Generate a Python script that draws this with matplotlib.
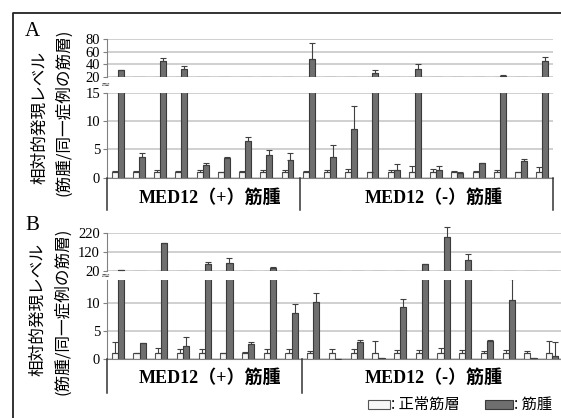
import numpy as np
import matplotlib.pyplot as plt
from matplotlib.lines import Line2D
from matplotlib.patches import Rectangle

# panel A
a_normal = [1.0, 1.0, 1.0, 1.0, 1.0, 1.0, 1.0, 1.0, 1.0, 1.0, 1.0, 1.0, 1.0, 1.0, 1.0, 1.0, 0.9, 1.0, 1.0, 1.0, 1.0]
a_normal_err = [0.1, 0.2, 0.3, 0.1, 0.3, 0.05, 0.2, 0.3, 0.3, 0.1, 0.4, 0.5, 0.05, 0.3, 1.0, 0.5, 0.2, 0.2, 0.4, 0.05, 0.8]
a_myoma = [30, 3.7, 45, 32, 2.2, 3.4, 6.5, 4.0, 3.1, 48, 3.7, 8.6, 26, 1.3, 32, 1.3, 0.8, 2.6, 21, 3.0, 45]
a_myoma_err = [1, 0.6, 5, 5, 0.3, 0.3, 0.7, 0.8, 1.3, 26, 2.0, 4.1, 4, 1.0, 9, 0.8, 0.1, 0.05, 1.5, 0.3, 6]

# panel B
b_normal = [1.0] * 21
b_normal_err = [2.1, 0.05, 1.0, 0.8, 0.7, 0.05, 0.2, 0.8, 0.7, 0.5, 0.7, 0.7, 2.2, 0.6, 0.6, 0.9, 0.6, 0.4, 0.6, 0.5, 2.2]
b_myoma = [23, 2.8, 166, 2.4, 55, 60, 2.7, 34, 8.2, 10.2, 0, 3.1, 0.2, 9.2, 58, 200, 78, 3.3, 10.5, 0.2, 0.6]
b_myoma_err = [1, 0.1, 2, 1.6, 10, 26, 0.4, 7, 1.6, 1.6, 0, 0.3, 0.05, 1.5, 1, 50, 30, 0.1, 3.7, 0.05, 2.5]

group_labels = ['MED12（+）筋腫', 'MED12（-）筋腫']
ylabel1 = '相対的発現レベル'
ylabel2 = '(筋腫/同一症例の筋層)'
legend_labels = [': 正常筋層', ': 筋腫']

W, H = 561, 418
serif = ['Liberation Serif', 'Noto Sans CJK JP']
cjk = ['Noto Sans CJK JP', 'DejaVu Sans']
white_c, white_e = '#f7f7f7', '#555555'
gray_c, gray_e = '#6f6f6f', '#3a3a3a'
grid_c = '#c4c4c4'
spine_c = '#808080'


def box(x0, y0, x1, y1):
    # pixel box -> figure fractions
    return [x0 / W, 1 - y1 / H, (x1 - x0) / W, (y1 - y0) / H]


def style(ax, lim, ticks, bottom):
    ax.set_ylim(*lim)
    ax.set_xlim(-0.5, 20.5)
    ax.set_yticks(ticks)
    ax.set_yticklabels([str(t) for t in ticks], fontfamily='Liberation Serif', fontsize=10.5)
    ax.set_xticks([])
    ax.tick_params(axis='y', direction='out', length=3, width=0.8, color=spine_c, pad=2)
    ax.yaxis.grid(True, color=grid_c, lw=1.1)
    ax.set_axisbelow(True)
    for s in ['top', 'right']:
        ax.spines[s].set_visible(False)
    ax.spines['left'].set_color(spine_c)
    ax.spines['bottom'].set_visible(bottom)
    ax.spines['bottom'].set_color(spine_c)
    ax.patch.set_alpha(0)


def draw(ax_hi, ax_lo, normal, normal_err, myoma, myoma_err, hi_lim, hi_ticks, lo_lim, lo_ticks):
    x = np.arange(len(normal))
    w = 0.28
    normal = np.array(normal)
    myoma = np.array(myoma)
    nerr = np.array(normal_err)
    merr = np.array(myoma_err)
    # lower part
    ax_lo.bar(x - w / 2, normal, w, color=white_c, edgecolor=white_e, lw=0.8, zorder=2)
    ax_lo.bar(x + w / 2, myoma, w, color=gray_c, edgecolor=gray_e, lw=0.8, zorder=2)
    ax_lo.errorbar(x - w / 2, normal, yerr=[np.zeros_like(nerr), nerr], fmt='none',
                   ecolor='#404040', elinewidth=0.8, capsize=2.2, capthick=0.8, zorder=3)
    ax_lo.errorbar(x + w / 2, myoma, yerr=[np.zeros_like(merr), merr], fmt='none',
                   ecolor='#404040', elinewidth=0.8, capsize=2.2, capthick=0.8, zorder=3)
    # upper part: bars start at the break value
    lo = hi_lim[0]
    ax_hi.bar(x - w / 2, np.clip(normal - lo, 0, None), w, bottom=lo, color=white_c,
              edgecolor=white_e, lw=0.8, zorder=2)
    ax_hi.bar(x + w / 2, np.clip(myoma - lo, 0, None), w, bottom=lo, color=gray_c,
              edgecolor=gray_e, lw=0.8, zorder=2)
    big = myoma > lo
    ax_hi.errorbar((x + w / 2)[big], myoma[big], yerr=[np.zeros(big.sum()), merr[big]], fmt='none',
                   ecolor='#404040', elinewidth=0.8, capsize=2.2, capthick=0.8, zorder=3, clip_on=False)
    style(ax_hi, hi_lim, hi_ticks, False)
    style(ax_lo, lo_lim, lo_ticks, True)


fig = plt.figure(figsize=(W / 100, H / 100), dpi=100)

# panel A
axA_hi = fig.add_axes(box(107, 39.3, 553, 76.7))
axA_lo = fig.add_axes(box(107, 92.7, 553, 177.5))
draw(axA_hi, axA_lo, a_normal, a_normal_err, a_myoma, a_myoma_err,
     (20, 80), [20, 40, 60, 80], (0, 15), [0, 5, 10, 15])

# panel B
axB_hi = fig.add_axes(box(107, 232.7, 563, 271))
axB_lo = fig.add_axes(box(107, 280, 563, 359))
draw(axB_hi, axB_lo, b_normal, b_normal_err, b_myoma, b_myoma_err,
     (20, 220), [20, 120, 220], (0, 14.1), [0, 5, 10])

# break marks
for yb in [85, 276]:
    fig.text(106 / W, 1 - yb / H, '≈', fontsize=8, ha='center', va='center', color='#444444')

# group separators and group labels
for xs, y0, y1 in [([107, 300, 553], 178, 210), ([107, 302], 359, 393)]:
    for xx in xs:
        fig.add_artist(Line2D([xx / W, xx / W], [1 - y0 / H, 1 - y1 / H], color='#333333', lw=1.1))
for yl in [198, 378]:
    fig.text(210 / W, 1 - yl / H, group_labels[0], family=serif, fontweight='bold', fontsize=13,
             ha='center', va='center')
    fig.text(434 / W, 1 - yl / H, group_labels[1], family=serif, fontweight='bold', fontsize=13,
             ha='center', va='center')

# y labels
for (x1, y1), (x2, y2) in [((40, 118), (64, 112)), ((38, 310), (63, 311))]:
    fig.text(x1 / W, 1 - y1 / H, ylabel1, family=cjk, fontsize=12, rotation=90, ha='center', va='center')
    fig.text(x2 / W, 1 - y2 / H, ylabel2, family=cjk, fontsize=12, rotation=90, ha='center', va='center')

# panel letters
fig.text(32 / W, 1 - 31.5 / H, 'A', family='Liberation Serif', fontsize=15, ha='center', va='center')
fig.text(32 / W, 1 - 225 / H, 'B', family='Liberation Serif', fontsize=15, ha='center', va='center')

# outer frame (left and top only, rest is cut off)
fig.add_artist(Line2D([13 / W, 13 / W, 1], [0, 1 - 13 / H, 1 - 13 / H], color='#222222', lw=1.3))

# legend
fig.add_artist(Rectangle((368 / W, 1 - 409 / H), 22 / W, 9 / H, transform=fig.transFigure,
                         facecolor=white_c, edgecolor=white_e, lw=0.8))
fig.text(391 / W, 1 - 404 / H, legend_labels[0], family=cjk, fontsize=11, ha='left', va='center')
fig.add_artist(Rectangle((485 / W, 1 - 409 / H), 28 / W, 9 / H, transform=fig.transFigure,
                         facecolor=gray_c, edgecolor=gray_e, lw=0.8))
fig.text(514 / W, 1 - 404 / H, legend_labels[1], family=cjk, fontsize=11, ha='left', va='center')

fig.savefig('out.png', dpi=100)
